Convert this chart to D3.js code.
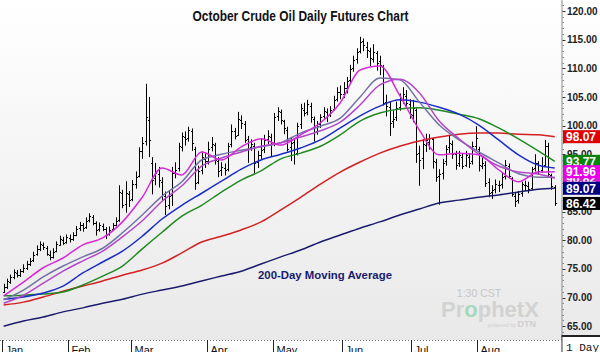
<!DOCTYPE html>
<html><head><meta charset="utf-8">
<script src="https://cdn.jsdelivr.net/npm/d3@7/dist/d3.min.js"></script>
<style>body{margin:0;background:#fff}svg{display:block}</style>
</head><body><svg id="c" width="600" height="352"></svg>
<script>
// ---------------- DATA ----------------
const months = ["Jan","Feb","Mar","Apr","May","Jun","Jul","Aug"];
const monthStart = [0,20,39,62,82,103,124,144];

const opens = [
 71.0,71.9,72.7,73.5,74.3,74.0,74.7,75.1,75.9,76.5,77.6,78.4,79.1,78.6,77.5,77.1,78.1,79.2,80.0,79.7,
 80.4,80.3,81.0,82.1,82.7,82.3,83.5,84.1,83.0,81.9,82.5,81.9,81.1,81.9,82.7,83.6,88.3,86.4,88.0,
 87.2,89.9,91.2,95.6,97.3,101.0,93.5,90.8,91.6,90.2,87.8,86.2,87.9,91.7,92.6,96.3,98.0,97.8,99.0,96.0,90.2,92.3,94.2,
 93.9,96.2,96.6,93.8,92.2,92.6,92.4,96.8,99.1,98.4,101.0,100.2,97.6,96.2,96.5,93.6,94.9,95.9,97.6,98.0,
 97.0,101.6,102.3,100.8,99.2,96.2,97.2,95.2,100.2,102.8,102.4,103.5,101.2,99.0,100.2,101.6,102.4,102.0,102.9,104.6,105.9,
 105.6,106.6,107.9,110.0,111.6,113.0,114.8,113.8,113.0,111.6,112.6,111.2,110.2,104.2,103.2,100.8,101.5,103.2,104.6,105.2,103.8,
 101.8,102.8,95.2,94.4,96.6,97.2,97.6,93.6,91.2,91.8,93.8,96.2,96.8,95.0,93.4,94.6,93.2,94.6,93.8,96.4,
 96.0,93.0,93.2,90.2,88.4,89.0,89.6,89.8,91.2,93.0,90.8,87.8,87.0,88.2,89.6,89.4,89.2,92.6,93.4,92.2,93.2,96.5,91.4,89.3
];
const highs = [
 72.4,73.3,74.0,74.9,74.8,75.0,75.8,76.4,76.9,78.0,79.1,79.8,79.6,79.0,78.2,78.6,79.8,80.8,80.6,81.0,
 81.0,81.4,82.5,83.2,83.0,84.0,84.7,84.4,83.3,83.1,82.9,82.3,82.4,83.0,84.0,89.6,88.8,90.3,88.6,
 90.5,92.0,96.2,98.0,107.3,105.0,94.5,93.5,92.8,91.0,88.5,88.6,92.8,93.6,97.0,98.8,99.0,99.8,99.5,96.3,93.0,95.5,95.2,
 97.2,98.0,97.0,94.5,93.6,93.4,97.0,100.2,99.6,102.4,101.8,100.8,98.2,97.6,97.0,95.6,97.8,98.4,99.2,98.6,
 102.2,103.2,102.8,101.0,99.8,98.0,97.8,100.5,103.8,104.0,104.5,104.0,101.6,100.8,102.0,103.2,103.0,103.4,105.2,106.7,107.0,
 107.6,108.5,110.6,112.2,113.5,115.5,115.2,114.6,113.6,114.2,113.0,112.2,110.6,105.4,104.2,102.6,104.2,105.6,106.7,106.2,104.6,
 104.5,103.0,96.5,97.6,98.6,98.5,97.9,94.2,92.4,94.2,96.6,98.2,97.4,95.6,95.6,95.2,95.6,95.2,97.2,99.9,
 96.3,94.6,93.8,90.8,89.6,90.6,90.4,91.8,94.0,93.4,91.0,88.4,88.6,90.2,90.4,90.2,92.8,95.0,93.8,94.5,97.5,97.0,91.6,89.6
];
const lows = [
 70.8,71.5,72.4,73.2,73.5,73.6,74.3,74.8,75.5,76.2,77.3,78.1,78.3,77.3,76.5,76.8,77.9,79.0,79.2,79.4,
 79.6,79.9,80.7,81.6,81.5,82.0,83.1,82.6,80.8,81.5,81.6,80.2,80.8,81.6,82.4,83.2,85.6,84.8,85.8,
 86.8,89.0,91.0,94.2,96.5,94.5,88.0,89.6,89.2,86.8,84.4,85.4,86.0,90.8,92.0,95.5,96.5,97.2,95.6,88.8,89.8,91.5,92.6,
 93.2,95.5,93.2,91.0,91.2,91.3,92.0,96.2,97.6,98.2,99.4,97.0,93.5,95.6,91.7,92.6,94.2,95.2,96.8,94.6,
 96.4,100.8,100.2,98.5,95.5,93.8,93.2,94.8,99.4,101.6,101.8,100.5,97.2,98.4,99.6,101.0,100.6,101.5,102.6,104.2,104.6,
 104.8,105.6,107.4,109.4,110.8,112.6,113.0,111.8,110.4,111.0,109.6,108.8,103.5,101.6,98.2,99.6,100.8,102.6,103.8,103.2,101.2,
 100.6,93.5,89.5,92.4,95.4,95.8,92.5,90.2,86.2,90.6,93.0,95.2,94.2,92.3,92.8,92.4,92.8,92.6,93.2,95.6,
 92.0,92.4,89.3,87.5,87.2,88.2,88.4,89.0,90.6,90.8,87.6,85.8,86.4,87.6,88.6,88.2,88.8,92.0,91.4,91.8,93.0,91.0,88.8,86.0
];
const closes = [
 71.8,72.8,73.6,74.4,74.0,74.6,75.2,75.8,76.4,77.5,78.5,79.3,78.8,77.6,77.0,78.0,79.3,80.2,79.6,80.5,
 80.2,80.9,82.0,82.6,82.2,83.4,84.2,83.0,81.8,82.6,82.0,81.0,81.8,82.6,83.4,88.5,86.2,88.2,87.0,
 89.8,91.0,95.5,97.0,101.5,97.5,90.5,91.8,90.5,88.0,86.0,87.8,91.8,92.3,96.5,98.2,97.6,99.2,97.0,90.0,92.0,94.5,93.8,
 96.0,96.8,94.0,92.0,92.8,92.2,96.5,99.0,98.2,101.2,100.5,97.5,96.0,96.8,93.5,94.8,95.8,97.5,98.2,96.8,
 101.5,102.5,101.0,99.5,96.0,97.0,95.0,100.0,103.0,102.2,103.8,101.5,98.8,100.0,101.5,102.6,101.8,102.8,104.5,105.8,105.5,
 106.5,107.8,109.8,111.5,112.8,114.6,114.0,113.2,111.8,112.8,111.0,110.5,104.0,103.5,100.5,101.2,103.0,104.5,105.5,104.0,102.0,
 103.0,95.0,94.0,96.8,97.5,97.8,93.8,91.0,91.5,93.5,96.0,97.0,95.0,93.2,94.8,93.0,94.8,93.5,96.5,97.8,
 93.2,93.5,90.0,88.2,88.8,89.8,89.6,91.0,93.2,91.2,88.0,86.8,88.0,89.8,89.6,89.0,92.5,93.5,92.0,93.0,96.5,91.5,89.4,86.42
];

// moving averages, read at these bar indices
const maIdx = [0,6,12,18,24,30,36,42,48,54,60,66,72,78,84,90,96,102,108,114,120,126,132,138,144,150,156,162,167];
const ma200 = [65.0,65.9,66.6,67.5,68.2,69.0,69.7,70.6,71.3,72.0,72.9,73.75,74.6,75.85,77.1,78.3,79.7,80.9,82.1,83.2,84.4,85.45,86.5,87.0,87.5,87.9,88.4,88.9,89.07];
const ma100 = [68.7,69.2,70.1,71.1,72.0,72.9,73.9,74.8,76.0,77.8,79.7,80.7,81.8,83.2,85.3,87.5,89.8,91.9,93.65,95.2,96.4,97.3,98.0,98.5,98.7,98.7,98.5,98.4,98.07];
const ma50  = [70.3,70.4,70.6,70.96,72.2,73.75,75.5,78.5,81.4,84.2,86.1,88.4,90.5,92.1,94.2,95.2,96.4,98.4,100.8,102.2,102.9,103.1,102.7,102.0,101.2,99.6,97.7,95.6,93.77];
const ma40  = [69.7,70.1,70.8,72.0,74.3,76.2,78.1,80.7,83.7,86.1,88.2,90.3,92.4,94.0,95.0,96.1,97.5,99.6,101.7,103.4,104.5,104.1,103.2,102.0,100.1,97.5,94.9,93.1,92.6];
const maSlate = [69.6,71.3,73.6,75.5,77.1,78.6,81.3,84.4,87.7,90.2,94.0,95.0,95.7,96.3,97.0,98.7,99.9,101.3,105.0,108.3,108.0,104.1,100.1,97.5,95.4,93.5,91.6,91.0,91.0];
const maPurple = [69.0,70.4,72.5,74.6,76.4,78.1,80.6,83.4,86.8,89.5,92.95,94.35,95.4,96.4,97.0,98.0,99.1,100.6,103.6,107.1,108.1,105.7,100.8,97.7,95.0,92.95,91.9,91.55,90.82];
const maMagenta = [70.3,72.7,75.2,76.9,79.2,80.4,83.2,87.5,92.6,91.4,95.4,94.0,96.3,97.7,96.6,98.4,100.5,104.0,109.7,110.4,105.3,99.2,94.9,95.2,94.9,92.3,90.2,91.9,91.96];

const yTicks = [65,70,75,80,85,90,95,100,105,110,115,120];
const lastValues = [90.82, 98.07, 93.77, 89.07, 91.96, 86.42];

// ---------------- STYLE ----------------
const W = 600, H = 352;
const plotRight = 561.5, plotBottom = 340;
const lastColors = ["#d21cd2","#e00000","#0a840a","#000080","#e800e8","#000000"];

const svg = d3.select("#c");
const defs = svg.append("defs");
const grad = defs.append("linearGradient").attr("id","bg").attr("x1",0).attr("y1",0).attr("x2",0).attr("y2",1);
grad.append("stop").attr("offset","0%").attr("stop-color","#ffffff");
grad.append("stop").attr("offset","100%").attr("stop-color","#e9e9e9");
defs.append("clipPath").attr("id","plotClip").append("rect")
  .attr("x",0).attr("y",0).attr("width",plotRight).attr("height",plotBottom);

svg.append("rect").attr("x",0).attr("y",0).attr("width",W).attr("height",plotBottom).attr("fill","url(#bg)");

const x = d3.scaleLinear().domain([-0.5, closes.length-0.5]).range([2, 2 + closes.length*3.3]);
const y = d3.scaleLinear().domain([65,120]).range([326.2, 11]);

// title
svg.append("text").attr("x",300.5).attr("y",21).attr("text-anchor","middle")
  .attr("font-family","Liberation Sans, Arial, sans-serif").attr("font-weight","bold")
  .attr("font-size",14.5).attr("fill","#111")
  .attr("textLength",216).attr("lengthAdjust","spacingAndGlyphs")
  .text("October Crude Oil Daily Futures Chart");

// watermark
const wm = svg.append("g").attr("font-family","Liberation Sans, Arial, sans-serif");
wm.append("text").attr("x",479).attr("y",297).attr("text-anchor","middle")
  .attr("font-size",10.5).attr("fill","#c6c6c6").text("1:30 CST");
const px = wm.append("text").attr("x",441).attr("y",317).attr("font-size",22).attr("font-weight","bold").attr("fill","#d2d2d2");
px.append("tspan").text("Pr");
px.append("tspan").attr("fill","#a6d8bd").text("o");
px.append("tspan").text("phetX");
const pw = wm.append("text").attr("x",536).attr("y",327).attr("text-anchor","end").attr("fill","#cfcfcf");
pw.append("tspan").attr("font-size",5.5).text("powered by ");
pw.append("tspan").attr("font-size",9).attr("font-weight","bold").text("DTN");

// annotation
svg.append("text").attr("x",325).attr("y",279).attr("text-anchor","middle")
  .attr("font-family","Liberation Sans, Arial, sans-serif").attr("font-weight","bold")
  .attr("font-size",11.5).attr("fill","#1a1a6e").attr("textLength",134).attr("lengthAdjust","spacingAndGlyphs")
  .text("200-Day Moving Average");

// plot group
const g = svg.append("g").attr("clip-path","url(#plotClip)");

// bars
const bars = g.append("g").attr("stroke","#000").attr("stroke-width",1).attr("fill","none");
closes.forEach((c,i)=>{
  const cx = Math.round(x(i)) + 0.5;
  bars.append("line").attr("x1",cx).attr("x2",cx).attr("y1",y(highs[i])).attr("y2",y(lows[i]));
  bars.append("line").attr("x1",cx-1.5).attr("x2",cx).attr("y1",Math.round(y(opens[i]))+0.5).attr("y2",Math.round(y(opens[i]))+0.5);
  bars.append("line").attr("x1",cx).attr("x2",cx+1.6).attr("y1",Math.round(y(c))+0.5).attr("y2",Math.round(y(c))+0.5);
});

// moving averages
const line = d3.line().x(d=>x(d[0])).y(d=>y(d[1])).curve(d3.curveMonotoneX);
const maSeries = [
  [ma200,"#1c1c6e"],[ma100,"#d42020"],[ma50,"#1f8a1f"],[ma40,"#1a2ec4"],
  [maSlate,"#7272a6"],[maPurple,"#b048c8"],[maMagenta,"#d62ad6"]
];
maSeries.forEach(([vals,col])=>{
  g.append("path").datum(maIdx.map((idx,k)=>[idx, vals[k]]))
    .attr("d",line).attr("fill","none").attr("stroke",col).attr("stroke-width",1.5);
});

// right axis
const ax = svg.append("g");
ax.append("line").attr("x1",plotRight+0.5).attr("x2",plotRight+0.5).attr("y1",0).attr("y2",H).attr("stroke","#8a8a8a");
d3.range(62,122,1).forEach(v=>{
  const yy = Math.round(y(v))+0.5;
  if (yy<0 || yy>334) return;
  const major = v%5===0;
  ax.append("line").attr("x1",plotRight+1).attr("x2",plotRight+(major?4:2.5)).attr("y1",yy).attr("y2",yy)
    .attr("stroke", major?"#333":"#888");
});
yTicks.forEach(v=>{
  ax.append("text").attr("x",567).attr("y",y(v)+3.6)
    .attr("font-family","Liberation Sans, Arial, sans-serif").attr("font-weight","bold")
    .attr("font-size",10).attr("fill","#222").text(v.toFixed(2));
});

// last-value labels
lastValues.forEach((v,k)=>{
  const yy = y(v);
  ax.append("rect").attr("x",563).attr("y",yy-6.5).attr("width",37).attr("height",13).attr("fill",lastColors[k]);
  ax.append("text").attr("x",566).attr("y",yy+4.5)
    .attr("font-family","Liberation Sans, Arial, sans-serif").attr("font-weight","bold")
    .attr("font-size",12).attr("fill","#fff").text(v.toFixed(2));
});

// bottom time axis
const tb = svg.append("g");
tb.append("rect").attr("x",0).attr("y",plotBottom).attr("width",plotRight).attr("height",H-plotBottom).attr("fill","#fff");
tb.append("line").attr("x1",0).attr("x2",plotRight).attr("y1",plotBottom+0.5).attr("y2",plotBottom+0.5)
  .attr("stroke","#777").attr("stroke-dasharray","1,2");
monthStart.forEach((s,k)=>{
  const mx = Math.round(x(s-0.5))+0.5;
  tb.append("line").attr("x1",mx).attr("x2",mx).attr("y1",plotBottom).attr("y2",H).attr("stroke","#222");
  tb.append("text").attr("x",mx+3).attr("y",353.5)
    .attr("font-family","Liberation Sans, Arial, sans-serif").attr("font-size",11).attr("fill","#111").text(months[k]);
});
// bottom-right corner
tb.append("rect").attr("x",plotRight+0.5).attr("y",336).attr("width",W-plotRight).attr("height",H-336).attr("fill","#fff");
tb.append("line").attr("x1",plotRight).attr("x2",W).attr("y1",336).attr("y2",336).attr("stroke","#222").attr("stroke-width",2);
tb.append("line").attr("x1",plotRight+0.5).attr("x2",plotRight+0.5).attr("y1",336).attr("y2",H).attr("stroke","#444");
tb.append("text").attr("x",566).attr("y",351)
  .attr("font-family","Liberation Mono, Courier New, monospace").attr("font-size",11).attr("fill","#111").text("1 Day");
</script></body></html>
